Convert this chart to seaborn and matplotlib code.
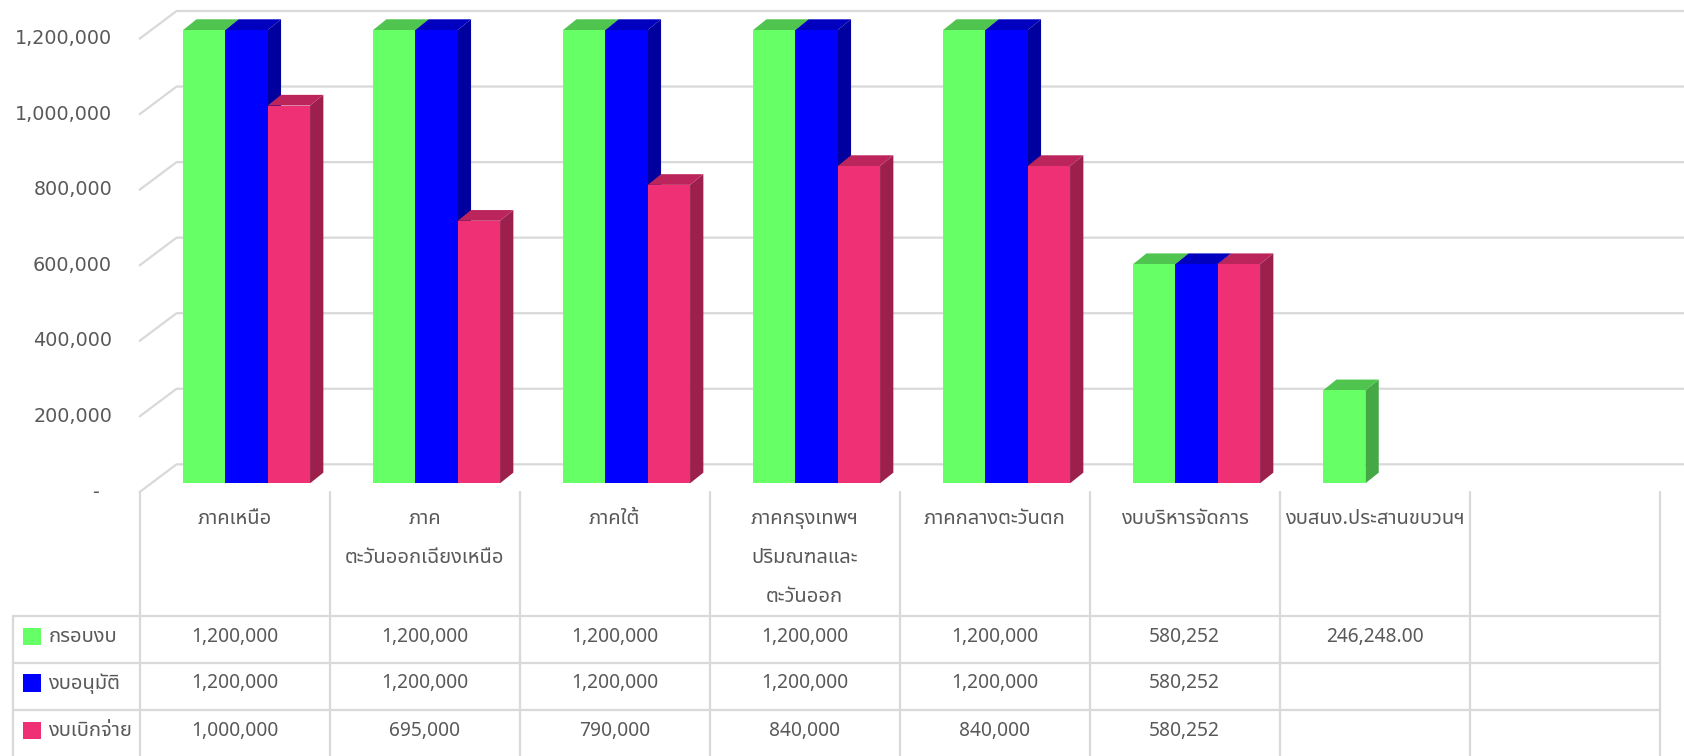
import numpy as np
import pandas as pd
import seaborn as sns
import matplotlib.pyplot as plt
from matplotlib import font_manager
from matplotlib.colors import to_hex
from matplotlib.ft2font import FT2Font
from matplotlib.patches import Polygon, Rectangle
from matplotlib.lines import Line2D

# ---- data ----
categories = ["ภาคเหนือ", "ภาค\nตะวันออกเฉียงเหนือ", "ภาคใต้",
              "ภาคกรุงเทพฯ\nปริมณฑลและ\nตะวันออก", "ภาคกลางตะวันตก",
              "งบบริหารจัดการ", "งบสนง.ประสานขบวนฯ", ""]
series = ["กรอบงบ", "งบอนุมัติ", "งบเบิกจ่าย"]
krob_ngob = [1200000, 1200000, 1200000, 1200000, 1200000, 580252, 246248.00]
ngob_anumat = [1200000, 1200000, 1200000, 1200000, 1200000, 580252]
ngob_berk = [1000000, 695000, 790000, 840000, 840000, 580252]
y_ticks = [0, 200000, 400000, 600000, 800000, 1000000, 1200000]
y_tick_labels = ["-  ", "200,000", "400,000", "600,000", "800,000", "1,000,000", "1,200,000"]

colores = ["#66FF66", "#0000FF", "#F03075"]
colores_top = ["#4FC44F", "#0000BE", "#BC255B"]
colores_side = ["#44A844", "#00009E", "#9C1F4C"]
gris_txt = "#595959"
gris_linea = "#D9D9D9"


def buscar_fuente_thai():
    preferidas = ["Noto Sans Thai", "Noto Sans Thai UI", "Loma", "Garuda", "Tlwg Typo",
                  "Kinnari", "Norasi", "Sawasdee", "Umpush", "Waree", "Purisa"]
    encontradas = []
    for f in font_manager.fontManager.ttflist:
        try:
            if 0x0E01 in FT2Font(f.fname).get_charmap():
                encontradas.append(f.name)
        except Exception:
            pass
    for p in preferidas:
        if p in encontradas:
            return p
    return encontradas[0] if encontradas else "DejaVu Sans"


fuente_thai = buscar_fuente_thai()

sns.set_theme(style="white")
plt.rcParams["font.family"] = ["DejaVu Sans"]

# long-form table for seaborn
filas = []
for nombre, valores in zip(series, [krob_ngob, ngob_anumat, ngob_berk]):
    for cat, v in zip(categories, valores):
        filas.append({"cat": cat, "serie": nombre, "valor": v})
df = pd.DataFrame(filas)

W, H = 1684, 756
fig = plt.figure(figsize=(W / 100, H / 100), dpi=100)
# axes = plane of the bars' front faces
ax = fig.add_axes([151.6 / W, (H - 483.3) / H, 1520 / W, 453.3 / H])

sns.barplot(data=df, x="cat", y="valor", hue="serie", order=categories[:7],
            hue_order=series, palette=colores, saturation=1, width=0.668,
            errorbar=None, linewidth=0, legend=False, ax=ax, zorder=3)
ax.set_xlim(-0.5, 7.5)
ax.set_ylim(0, 1200000)
ax.axis("off")

# pixel offsets (display, y up) converted to data units
px_x = ax.transData.transform((1, 0))[0] - ax.transData.transform((0, 0))[0]
px_y = ax.transData.transform((0, 1))[1] - ax.transData.transform((0, 0))[1]
def off(dx, dy):
    return dx / px_x, dy / px_y

fdx, fdy = off(-12, -8.7)   # front plane
bdx, bdy = off(25, 19)      # back wall
ddx, ddy = off(13.3, 10.7)  # bar depth

# grid: front-left diagonal + back wall line
for v in y_ticks:
    ax.add_line(Line2D([-0.5 + fdx, -0.5 + bdx, 9], [v + fdy, v + bdy, v + bdy],
                       color=gris_linea, lw=1.6, clip_on=False, zorder=0.5))

# 3D faces of the bars
for p in ax.patches[:]:
    h = p.get_height()
    if not np.isfinite(h) or h == 0:
        continue
    x0, x1 = p.get_x(), p.get_x() + p.get_width()
    c = to_hex(p.get_facecolor()).upper()
    i = colores.index(c) if c in colores else 0
    lado = Polygon([(x1, 0), (x1, h), (x1 + ddx, h + ddy), (x1 + ddx, ddy)],
                   closed=True, fc=colores_side[i], ec="none", clip_on=False, zorder=1)
    tapa = Polygon([(x0, h), (x1, h), (x1 + ddx, h + ddy), (x0 + ddx, h + ddy)],
                   closed=True, fc=colores_top[i], ec="none", clip_on=False, zorder=2)
    ax.add_patch(lado)
    ax.add_patch(tapa)
    p.set_clip_on(False)

# y tick labels on the front plane
pad = 27.6 / px_x
for v, lab in zip(y_ticks, y_tick_labels):
    ax.text(-0.5 + fdx - pad, v + fdy, lab, ha="right", va="center",
            fontsize=13.8, color=gris_txt, clip_on=False)

# ---- data table under the chart ----
def a_fig(x_data, y_px):
    xd = ax.transData.transform((x_data, 0))[0]
    return xd / W, (H - y_px) / H

y_cero = H - ax.transData.transform((0, fdy))[1]
filas_y = [615.7, 662.7, 710.0]
x_izq = 12.7 / W
x_bordes = [k - 0.5 + fdx for k in range(len(categories) + 1)]

for xb in x_bordes:
    xf, _ = a_fig(xb, 0)
    fig.add_artist(Line2D([xf, xf], [(H - y_cero) / H, 0], color=gris_linea, lw=1.6))
fig.add_artist(Line2D([x_izq, x_izq], [(H - filas_y[0]) / H, 0], color=gris_linea, lw=1.6))
x_der, _ = a_fig(x_bordes[-1], 0)
for yr in filas_y:
    fig.add_artist(Line2D([x_izq, x_der], [(H - yr) / H] * 2, color=gris_linea, lw=1.6))

fam_thai = [fuente_thai, "Noto Sans", "DejaVu Sans"]
for k, cat in enumerate(categories):
    for j, linea in enumerate(cat.split("\n")):
        xf, yf = a_fig(k + fdx, 519.3 + 39 * j)
        fig.text(xf, yf, linea, ha="center", va="center", fontsize=14.5,
                 color=gris_txt, family=fam_thai)

valores_y = [636.7, 683.3, 730.7]
for j, (nombre, valores) in enumerate(zip(series, [krob_ngob, ngob_anumat, ngob_berk])):
    yc = valores_y[j]
    fig.add_artist(Rectangle((22.7 / W, (H - yc - 8.5) / H), 18.3 / W, 17.4 / H,
                             transform=fig.transFigure, fc=colores[j], ec="none"))
    fig.text(48.3 / W, (H - yc) / H, nombre, ha="left", va="center", fontsize=14.5,
             color=gris_txt, family=fam_thai)
    for k, v in enumerate(valores):
        txt = f"{v:,.2f}" if isinstance(v, float) else f"{v:,}"
        xf, yf = a_fig(k + fdx, yc)
        fig.text(xf, yf, txt, ha="center", va="center", fontsize=13.8,
                 color=gris_txt, family="Noto Sans")

fig.savefig("out.png", dpi=100)
